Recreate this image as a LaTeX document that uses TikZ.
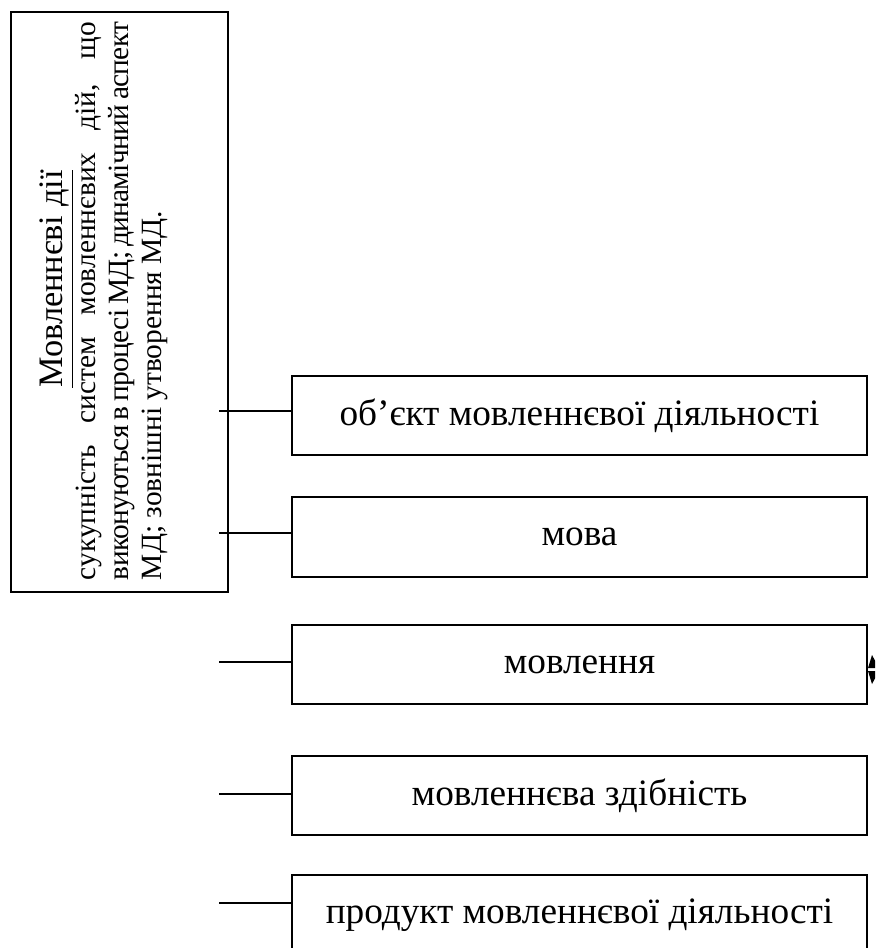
\documentclass[tikz,border=0pt]{standalone}
\usepackage{fontspec}
\setmainfont{Liberation Serif}
\usetikzlibrary{arrows.meta}

\begin{document}
\begin{tikzpicture}[x=0.408pt,y=-0.408pt]
\tikzset{
  termbox/.style={rectangle,draw=black,line width=0.8pt,minimum width=234.6pt,minimum height=32.6pt,inner sep=2pt,font=\fontsize{15.2}{17}\selectfont},
  mdframe/.style={rectangle,draw=black,line width=0.8pt,minimum width=236.6pt,minimum height=88.5pt,inner sep=0pt},
  link/.style={draw=black,line width=0.8pt,line cap=butt}
}
\useasboundingbox (0,0) rectangle (875,948);
\clip (0,0) rectangle (875,948);
\node[mdframe,rotate=90] (n_md) at (119.5,302) {};
\node[rotate=90,anchor=north,inner sep=0pt] (n_mdtext) at (39,301) {\parbox{227.7pt}{%
  {\centering\fontsize{14}{16}\selectfont\hspace*{18pt}\underline{Мовленнєві дії}\par}%
  \fontsize{12}{13.5}\selectfont
  сукупність систем мовленнєвих дій, що\linebreak
  {\addfontfeatures{LetterSpace=-2.5}виконуються в процесі МД; динамічний аспект}\linebreak
  МД; зовнішні утворення МД.}};
\node[termbox] (n_obj) at (579.5,415.5) {об’єкт мовленнєвої діяльності};
\node[termbox] (n_mova) at (579.5,537) {мова};
\node[termbox] (n_movl) at (579.5,664.5) {мовлення};
\node[termbox] (n_zdib) at (579.5,795.5) {мовленнєва здібність};
\node[termbox] (n_prod) at (579.5,915) {продукт мовленнєвої діяльності};
\coordinate (c_obj) at (219,411);
\coordinate (c_mova) at (219,533);
\coordinate (c_movl) at (219,662);
\coordinate (c_zdib) at (219,794);
\coordinate (c_prod) at (219,903);
\draw[link] (c_obj) -- (c_obj -| n_obj.west);
\draw[link] (c_mova) -- (c_mova -| n_mova.west);
\draw[link] (c_movl) -- (c_movl -| n_movl.west);
\draw[link] (c_zdib) -- (c_zdib -| n_zdib.west);
\draw[link] (c_prod) -- (c_prod -| n_prod.west);
% arrow tips cut by the right edge
\fill[black] (868,668) -- (872,655) -- (879,668) -- cycle;
\fill[black] (868,671) -- (872,684) -- (879,671) -- cycle;
\end{tikzpicture}
\end{document}
